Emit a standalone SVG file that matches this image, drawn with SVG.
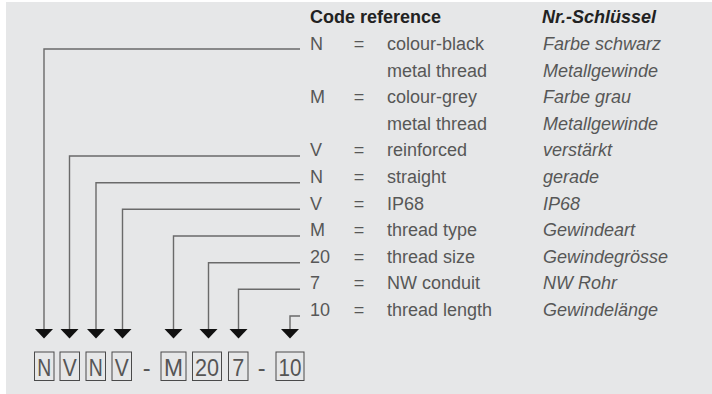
<svg xmlns="http://www.w3.org/2000/svg" width="712" height="394" viewBox="0 0 712 394">
<style>
.t{font-family:"Liberation Sans",Arial,sans-serif;font-size:18px;fill:#575757}
.i{font-style:italic}
.h{font-weight:bold;fill:#222}
.eq{text-anchor:middle}
.bx{fill:none;stroke:#4a4a4a;stroke-width:1}
.bt{font-family:"Liberation Sans",Arial,sans-serif;font-size:23.5px;fill:#555;text-anchor:middle}
.ln{fill:none;stroke:#6a6a6a;stroke-width:1.4}
.ah{fill:#111}
</style>
<defs>
<path id="arr" d="M-9,0 L9,0 L0,9.5 Z"/>
</defs>
<rect x="0" y="0" width="712" height="394" fill="#ffffff"/>
<rect x="6" y="2" width="706" height="392" fill="#e6e7e8"/>

<g id="connectors">
<path class="ln" d="M300,49 H44 V329"/>
<path class="ln" d="M300,156 H69.5 V329"/>
<path class="ln" d="M300,182.7 H96 V329"/>
<path class="ln" d="M300,209.3 H122.5 V329"/>
<path class="ln" d="M300,236 H173.5 V329"/>
<path class="ln" d="M300,262.7 H208.5 V329"/>
<path class="ln" d="M300,289.3 H238.5 V329"/>
<path class="ln" d="M300,316 H290 V329"/>
<use href="#arr" class="ah" x="44" y="329"/>
<use href="#arr" class="ah" x="69.5" y="329"/>
<use href="#arr" class="ah" x="96" y="329"/>
<use href="#arr" class="ah" x="122.5" y="329"/>
<use href="#arr" class="ah" x="173.5" y="329"/>
<use href="#arr" class="ah" x="208.5" y="329"/>
<use href="#arr" class="ah" x="238.5" y="329"/>
<use href="#arr" class="ah" x="290" y="329"/>
</g>

<g id="header">
<text class="t h" x="310" y="23">Code reference</text>
<text class="t h i" x="542" y="23">Nr.-Schlüssel</text>
</g>

<g id="row-N-black">
<text class="t" x="310" y="50">N</text>
<text class="t eq" x="359" y="50">=</text>
<text class="t" x="387" y="50">colour-black</text>
<text class="t i" x="543" y="50">Farbe schwarz</text>
<text class="t" x="387" y="76.6">metal thread</text>
<text class="t i" x="543" y="76.6">Metallgewinde</text>
</g>
<g id="row-M-grey">
<text class="t" x="310" y="103.2">M</text>
<text class="t eq" x="359" y="103.2">=</text>
<text class="t" x="387" y="103.2">colour-grey</text>
<text class="t i" x="543" y="103.2">Farbe grau</text>
<text class="t" x="387" y="129.8">metal thread</text>
<text class="t i" x="543" y="129.8">Metallgewinde</text>
</g>
<g id="row-V-reinforced">
<text class="t" x="310" y="156.4">V</text>
<text class="t eq" x="359" y="156.4">=</text>
<text class="t" x="387" y="156.4">reinforced</text>
<text class="t i" x="543" y="156.4">verstärkt</text>
</g>
<g id="row-N-straight">
<text class="t" x="310" y="183">N</text>
<text class="t eq" x="359" y="183">=</text>
<text class="t" x="387" y="183">straight</text>
<text class="t i" x="543" y="183">gerade</text>
</g>
<g id="row-V-ip68">
<text class="t" x="310" y="209.6">V</text>
<text class="t eq" x="359" y="209.6">=</text>
<text class="t" x="387" y="209.6">IP68</text>
<text class="t i" x="543" y="209.6">IP68</text>
</g>
<g id="row-M-type">
<text class="t" x="310" y="236.2">M</text>
<text class="t eq" x="359" y="236.2">=</text>
<text class="t" x="387" y="236.2">thread type</text>
<text class="t i" x="543" y="236.2">Gewindeart</text>
</g>
<g id="row-20-size">
<text class="t" x="310" y="262.8">20</text>
<text class="t eq" x="359" y="262.8">=</text>
<text class="t" x="387" y="262.8">thread size</text>
<text class="t i" x="543" y="262.8">Gewindegrösse</text>
</g>
<g id="row-7-conduit">
<text class="t" x="310" y="289.4">7</text>
<text class="t eq" x="359" y="289.4">=</text>
<text class="t" x="387" y="289.4">NW conduit</text>
<text class="t i" x="543" y="289.4">NW Rohr</text>
</g>
<g id="row-10-length">
<text class="t" x="310" y="316">10</text>
<text class="t eq" x="359" y="316">=</text>
<text class="t" x="387" y="316">thread length</text>
<text class="t i" x="543" y="316">Gewindelänge</text>
</g>

<g id="code">
<g id="box-N1"><rect class="bx" x="34.5" y="352" width="19.5" height="28.5"/><text class="bt" x="44.2" y="375.5" textLength="14" lengthAdjust="spacingAndGlyphs">N</text></g>
<g id="box-V1"><rect class="bx" x="60" y="352" width="19.5" height="28.5"/><text class="bt" x="69.7" y="375.5" textLength="14" lengthAdjust="spacingAndGlyphs">V</text></g>
<g id="box-N2"><rect class="bx" x="86" y="352" width="19.5" height="28.5"/><text class="bt" x="95.7" y="375.5" textLength="14" lengthAdjust="spacingAndGlyphs">N</text></g>
<g id="box-V2"><rect class="bx" x="112" y="352" width="19.5" height="28.5"/><text class="bt" x="121.7" y="375.5" textLength="14" lengthAdjust="spacingAndGlyphs">V</text></g>
<text class="bt" x="146.7" y="375.5">-</text>
<g id="box-M"><rect class="bx" x="161" y="352" width="25" height="28.5"/><text class="bt" x="173.5" y="375.5" textLength="19" lengthAdjust="spacingAndGlyphs">M</text></g>
<g id="box-20"><rect class="bx" x="192.5" y="352" width="29" height="28.5"/><text class="bt" x="207" y="375.5" textLength="24" lengthAdjust="spacingAndGlyphs">20</text></g>
<g id="box-7"><rect class="bx" x="228.5" y="352" width="19.5" height="28.5"/><text class="bt" x="238.2" y="375.5" textLength="12" lengthAdjust="spacingAndGlyphs">7</text></g>
<text class="bt" x="261.7" y="375.5">-</text>
<g id="box-10"><rect class="bx" x="276" y="352" width="28" height="28.5"/><text class="bt" x="290" y="375.5" textLength="23" lengthAdjust="spacingAndGlyphs">10</text></g>
</g>
</svg>
